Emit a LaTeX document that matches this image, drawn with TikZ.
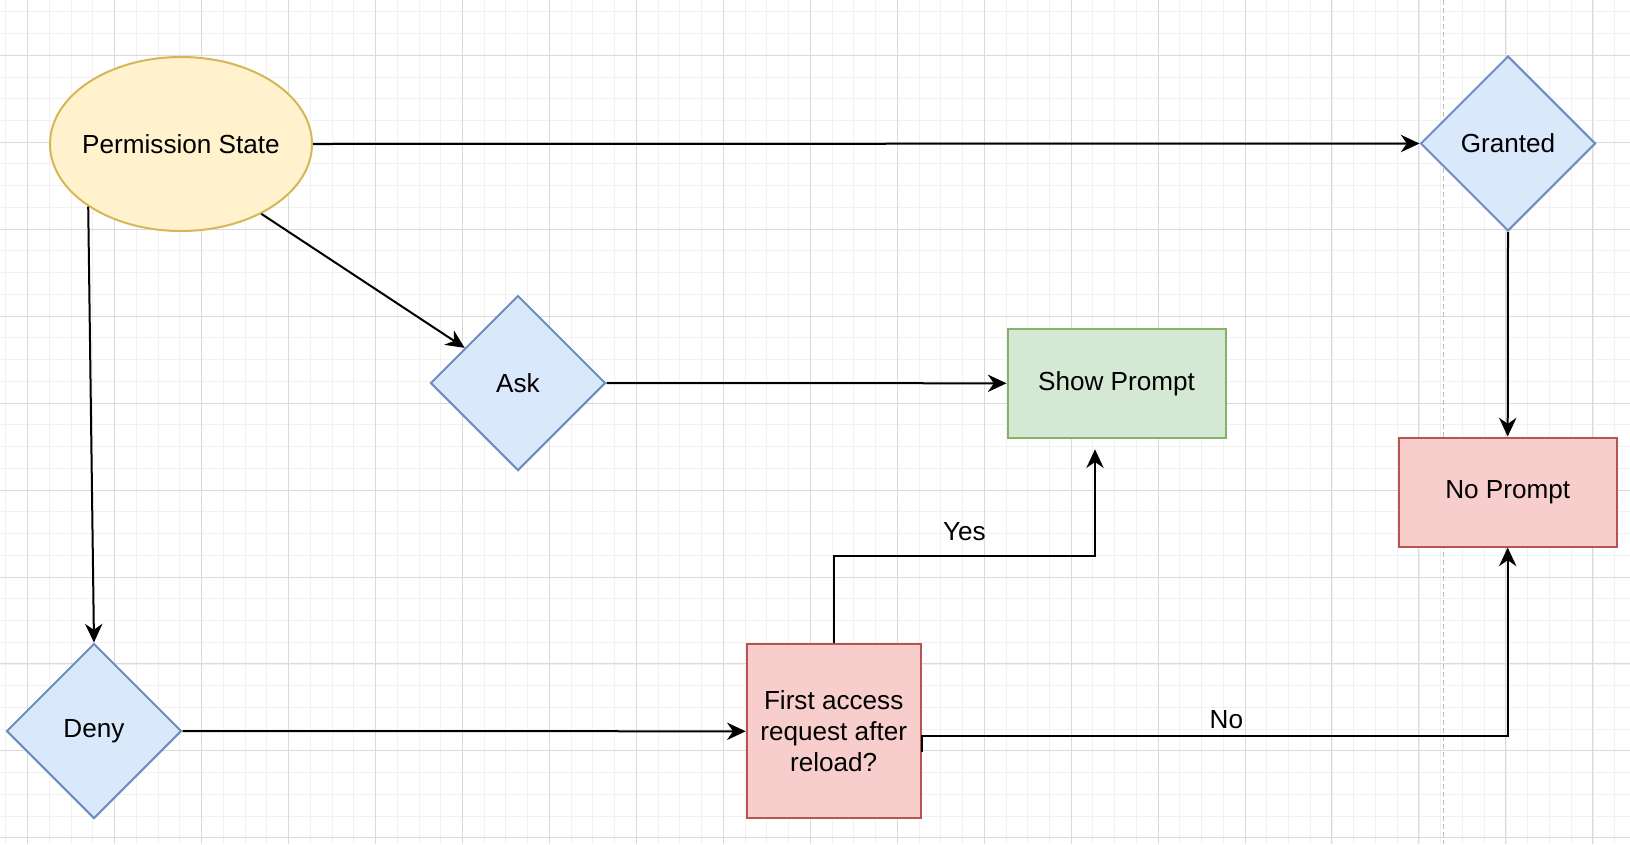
\documentclass[tikz,border=0pt]{standalone}
\usepackage{fontspec}
\setmainfont{Liberation Sans}
\usepackage{tikz}
\usetikzlibrary{shapes.geometric,arrows.meta}

\definecolor{stateFill}{HTML}{FFF2CC}
\definecolor{stateLine}{HTML}{D6B656}
\definecolor{blueFill}{HTML}{DAE8FC}
\definecolor{blueLine}{HTML}{6C8EBF}
\definecolor{greenFill}{HTML}{D5E8D4}
\definecolor{greenLine}{HTML}{82B366}
\definecolor{redFill}{HTML}{F8CECC}
\definecolor{redLine}{HTML}{B85450}
\definecolor{gridMajor}{HTML}{DADADA}
\definecolor{gridMinor}{HTML}{F1F1F1}
\definecolor{pageLine}{HTML}{BDBDBD}

\tikzset{
  every node/.style={font=\fontsize{19.6}{23.5}\selectfont},
  statenode/.style={ellipse, draw=stateLine, fill=stateFill, line width=1.5pt,
    minimum width=196.5pt, minimum height=130.5pt, inner sep=0pt},
  decision/.style={diamond, aspect=1, draw=blueLine, fill=blueFill, line width=1.5pt,
    minimum width=131.25pt, minimum height=131.25pt, inner sep=0pt},
  showbox/.style={rectangle, draw=greenLine, fill=greenFill, line width=1.5pt,
    minimum width=163.5pt, minimum height=81.75pt, inner sep=0pt},
  nobox/.style={rectangle, draw=redLine, fill=redFill, line width=1.5pt,
    minimum width=163.5pt, minimum height=81.75pt, inner sep=0pt},
  checkbox/.style={rectangle, draw=redLine, fill=redFill, line width=1.5pt,
    minimum width=130.5pt, minimum height=130.5pt, inner sep=0pt, align=center},
  conn/.style={draw=black, line width=1.5pt,
    -{Stealth[length=14pt, width=13pt, inset=4.5pt]}},
  edgelabel/.style={inner sep=0pt}
}

\begin{document}
\begin{tikzpicture}[x=0.75pt,y=0.75pt,yscale=-1,xscale=1]
    \useasboundingbox (0,0) rectangle (1630,844);
    \fill[white] (0,0) rectangle (1630,844);

    %Grid
    \foreach \i in {0,...,74} \draw[gridMinor, line width=0.75pt] ({5.96+\i*21.74},0) -- ({5.96+\i*21.74},844);
    \foreach \j in {0,...,38} \draw[gridMinor, line width=0.75pt] (0,{11.8+\j*21.74}) -- (1630,{11.8+\j*21.74});
    \foreach \i in {0,...,18} \draw[gridMajor, line width=0.75pt] ({27.7+\i*86.95},0) -- ({27.7+\i*86.95},844);
    \foreach \j in {0,...,9} \draw[gridMajor, line width=0.75pt] (0,{55.3+\j*86.95}) -- (1630,{55.3+\j*86.95});
    %Page break
    \draw[pageLine, line width=0.75pt, dash pattern=on 4pt off 2pt] (1443.3,0) -- (1443.3,844);

    %Shapes
    \node[statenode] (state) at (181,144) {\makebox[0pt]{Permission State}};
    \node[decision] (granted) at (1508,143.5) {Granted};
    \node[decision] (ask) at (518,383) {Ask};
    \node[showbox] (show) at (1116.5,383.3) {Show Prompt};
    \node[nobox] (noprompt) at (1507.7,492) {No Prompt};
    \node[decision] (deny) at (94,731) {Deny};
    \node[checkbox] (first) at (833.7,731.3) {First access\\request after\\reload?};
    \coordinate (yesend) at (1095,449.3);

    %Connectors
    \draw[conn] (state.east) -- (granted.west);
    \draw[conn] (state.-41.5) -- (ask);
    \draw[conn] (state.214) -- (deny.north);
    \draw[conn] (ask.east) -- (show.west);
    \draw[conn] (granted.south) -- (noprompt.north);
    \draw[conn] (deny.east) -- (first.west);
    \draw[conn] (first.north) -- ++(0,-87) -| node[edgelabel, pos=0.25, above=11pt] {Yes} (yesend);
    \draw[conn] ([yshift=15.4pt]first.east) -- ++(0,-16.2) -| node[edgelabel, pos=0.26, above=4.5pt] {No} (noprompt.south);
\end{tikzpicture}
\end{document}
